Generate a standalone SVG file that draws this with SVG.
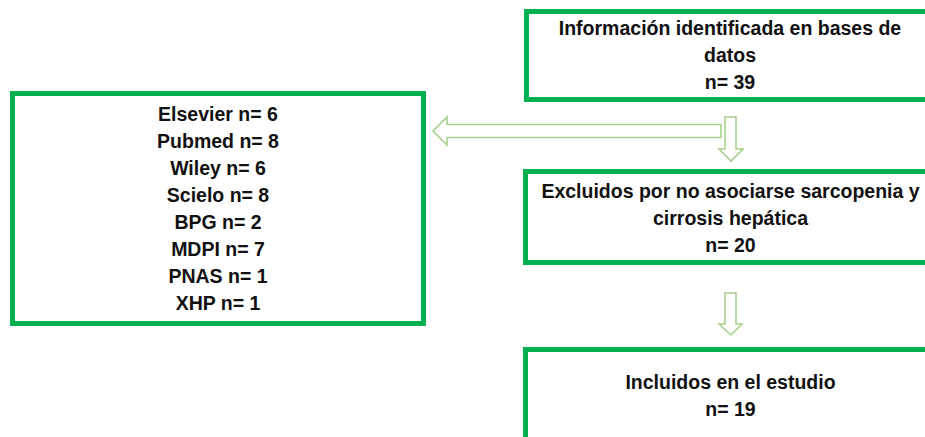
<svg xmlns="http://www.w3.org/2000/svg" width="925" height="437" viewBox="0 0 925 437">
<style>
.box{fill:#fff;stroke:#00B050;stroke-width:5}
.arr{fill:#fff;stroke:#A9D18E;stroke-width:1.6;stroke-linejoin:miter}
text{font-family:"Liberation Sans",Arial,sans-serif;font-weight:bold;font-size:19.5px;fill:#111;text-anchor:middle}
</style>
<rect width="925" height="437" fill="#fff"/>
<g id="connectors">
<path class="arr" d="M433,131 L447,117 L447,124.5 L721,124.5 L721,137.5 L447,137.5 L447,145 Z"/>
<path class="arr" d="M725,117 L736,117 L736,149 L743,149 L731,161 L719,149 L725,149 Z"/>
<path class="arr" d="M725,293 L736,293 L736,324 L742,324 L731,335 L719,324 L725,324 Z"/>
</g>
<g id="node-identificada">
<rect class="box" x="526.5" y="11.5" width="420" height="88"/>
<text x="730" y="35">Información identificada en bases de</text>
<text x="730" y="62">datos</text>
<text x="730" y="89">n= 39</text>
</g>
<g id="node-bases">
<rect class="box" x="12.5" y="93.5" width="411" height="230"/>
<text x="218" y="121">Elsevier n= 6</text>
<text x="218" y="148">Pubmed n= 8</text>
<text x="218" y="175">Wiley n= 6</text>
<text x="218" y="202">Scielo n= 8</text>
<text x="218" y="229">BPG n= 2</text>
<text x="218" y="256">MDPI n= 7</text>
<text x="218" y="283">PNAS n= 1</text>
<text x="218" y="310">XHP n= 1</text>
</g>
<g id="node-excluidos">
<rect class="box" x="525.5" y="171.5" width="420" height="91"/>
<text x="730.5" y="198">Excluidos por no asociarse sarcopenia y</text>
<text x="730.5" y="225">cirrosis hepática</text>
<text x="730.5" y="252">n= 20</text>
</g>
<g id="node-incluidos">
<rect class="box" x="525.5" y="349.5" width="420" height="120"/>
<text x="730.5" y="389">Incluidos en el estudio</text>
<text x="730.5" y="416">n= 19</text>
</g>
</svg>
